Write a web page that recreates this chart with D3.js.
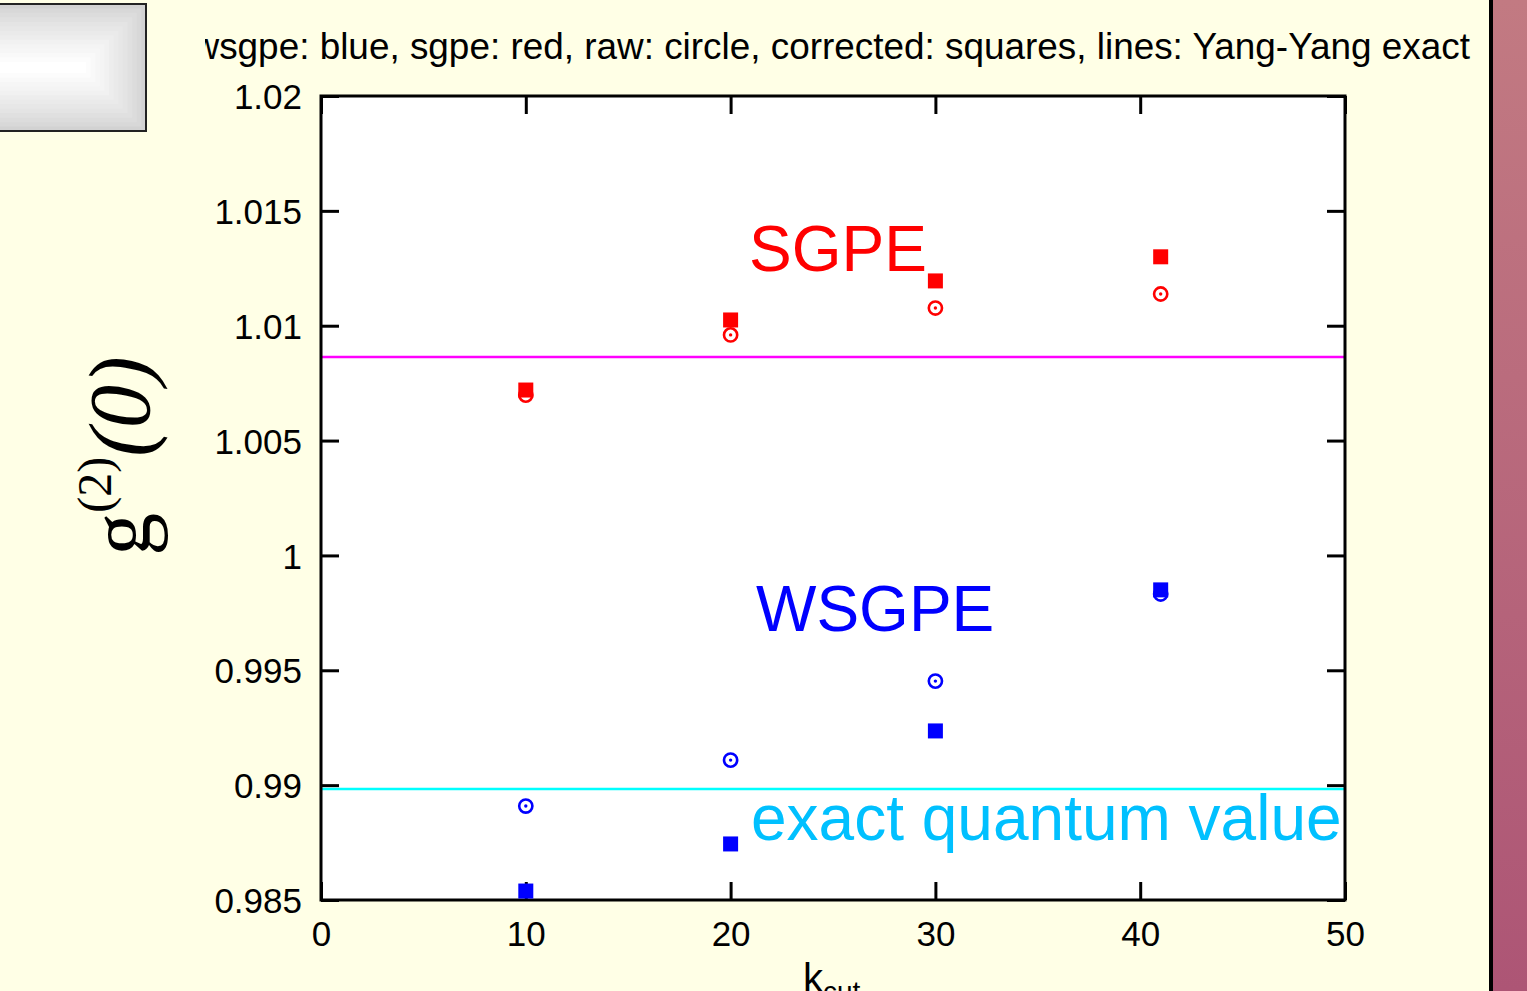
<!DOCTYPE html>
<html>
<head>
<meta charset="utf-8">
<script src="https://cdn.jsdelivr.net/npm/d3@7"></script>
<style>
  html, body { margin: 0; padding: 0; background: #ffffe6; }
  svg { display: block; }
</style>
</head>
<body>
<svg id="chart" width="1527" height="991"></svg>
<script>
// k_cut values sampled
const kcut = [10, 20, 30, 41];
// g2(0) estimates
const sgpeRaw = [1.00698, 1.0096, 1.01077, 1.01138];
const sgpeCorrected = [1.0072, 1.01025, 1.01195, 1.0130];
const wsgpeRaw = [0.98909, 0.99109, 0.99453, 0.99832];
const wsgpeCorrected = [0.98539, 0.98744, 0.99236, 0.9985];
// Yang-Yang exact reference lines
const yangYangSgpe = 1.00864;
const yangYangExact = 0.98983;
// axis ticks
const xTicks = [0, 10, 20, 30, 40, 50];
const yTicks = [0.985, 0.99, 0.995, 1, 1.005, 1.01, 1.015, 1.02];
const yTickLabels = ["0.985", "0.99", "0.995", "1", "1.005", "1.01", "1.015", "1.02"];

const svg = d3.select("#chart");
const W = 1527, H = 991;

// page background and side band
const defs = svg.append("defs");
const band = defs.append("linearGradient").attr("id", "band").attr("x1", 0).attr("y1", 0).attr("x2", 0).attr("y2", 1);
band.append("stop").attr("offset", "0%").attr("stop-color", "#c27a82");
band.append("stop").attr("offset", "100%").attr("stop-color", "#ad5575");
defs.append("clipPath").attr("id", "titleclip")
  .append("rect").attr("x", 205).attr("y", 0).attr("width", 1290).attr("height", 90);

svg.append("rect").attr("x", 0).attr("y", 0).attr("width", W).attr("height", H).attr("fill", "#ffffe6");
svg.append("rect").attr("x", 1492).attr("y", 0).attr("width", 35).attr("height", H).attr("fill", "url(#band)");
svg.append("rect").attr("x", 1489).attr("y", 0).attr("width", 4).attr("height", H).attr("fill", "#000");

// grey bevelled box top-left: nested bands shading toward a light centre strip
const steps = 14;
const boxG = svg.append("g");
const shade = d3.interpolateRgb("#d2d2d2", "#ffffff");
d3.range(steps).forEach(i => {
  const t = i / (steps - 1);
  const top = 4 + t * 58, bottom = 131 - t * 58, right = 146 - t * 60;
  boxG.append("rect").attr("x", -2).attr("y", top).attr("width", right + 2).attr("height", bottom - top)
    .attr("fill", shade(Math.pow(t, 0.8)));
});
svg.append("rect").attr("x", -2).attr("y", 4).attr("width", 148).attr("height", 127)
  .attr("fill", "none").attr("stroke", "#222").attr("stroke-width", 2);

// scales
const x = d3.scaleLinear().domain([0, 50]).range([321, 1345]);
const y = d3.scaleLinear().domain([0.985, 1.02]).range([900, 96]);

// plot area
svg.append("rect").attr("x", x(0)).attr("y", y(1.02)).attr("width", x(50) - x(0)).attr("height", y(0.985) - y(1.02))
  .attr("fill", "#ffffff");

// title
svg.append("text").attr("clip-path", "url(#titleclip)")
  .attr("x", 1470).attr("y", 59).attr("text-anchor", "end")
  .attr("font-family", "Liberation Sans, Arial, sans-serif").attr("font-size", 36.9).attr("fill", "#000")
  .text("wsgpe: blue, sgpe: red, raw: circle, corrected: squares, lines: Yang-Yang exact");

// reference lines
svg.append("line").attr("x1", x(0)).attr("x2", x(50)).attr("y1", y(yangYangSgpe)).attr("y2", y(yangYangSgpe))
  .attr("stroke", "#ff00ff").attr("stroke-width", 2.5);
svg.append("line").attr("x1", x(0)).attr("x2", x(50)).attr("y1", y(yangYangExact)).attr("y2", y(yangYangExact))
  .attr("stroke", "#00ffff").attr("stroke-width", 2.5);

// axes with inward ticks on all four sides
const tickFont = "Liberation Sans, Arial, sans-serif";
const tl = 18;
const yLeft = svg.append("g").attr("transform", `translate(${x(0)},0)`)
  .call(d3.axisLeft(y).tickValues(yTicks).tickSize(-tl).tickPadding(19)
    .tickFormat((d, i) => yTickLabels[i]));
const yRight = svg.append("g").attr("transform", `translate(${x(50)},0)`)
  .call(d3.axisRight(y).tickValues(yTicks).tickSize(-tl).tickFormat(""));
const xBottom = svg.append("g").attr("transform", `translate(0,${y(0.985)})`)
  .call(d3.axisBottom(x).tickValues(xTicks).tickSize(-tl).tickPadding(21));
const xTop = svg.append("g").attr("transform", `translate(0,${y(1.02)})`)
  .call(d3.axisTop(x).tickValues(xTicks).tickSize(-tl).tickFormat(""));
[yLeft, yRight, xBottom, xTop].forEach(g => {
  g.select(".domain").remove();
  g.selectAll(".tick line").attr("stroke", "#000").attr("stroke-width", 3);
  g.selectAll("text").attr("font-family", tickFont).attr("font-size", 35).attr("fill", "#000");
});
yLeft.selectAll("text").attr("dy", "0.36em");

// frame
svg.append("rect").attr("x", x(0)).attr("y", y(1.02)).attr("width", x(50) - x(0)).attr("height", y(0.985) - y(1.02))
  .attr("fill", "none").attr("stroke", "#000").attr("stroke-width", 3);

// markers
const sq = 15;
function squares(vals, color) {
  svg.append("g").selectAll("rect").data(vals).join("rect")
    .attr("x", (d, i) => x(kcut[i]) - sq / 2).attr("y", d => y(d) - sq / 2)
    .attr("width", sq).attr("height", sq).attr("fill", color);
}
function circles(vals, color) {
  const g = svg.append("g");
  g.selectAll("circle.ring").data(vals).join("circle").attr("class", "ring")
    .attr("cx", (d, i) => x(kcut[i])).attr("cy", d => y(d)).attr("r", 6.6)
    .attr("fill", "none").attr("stroke", color).attr("stroke-width", 2.6);
  g.selectAll("circle.dot").data(vals).join("circle").attr("class", "dot")
    .attr("cx", (d, i) => x(kcut[i])).attr("cy", d => y(d)).attr("r", 1.7)
    .attr("fill", color);
}
squares(sgpeCorrected, "#ff0000");
circles(sgpeRaw, "#ff0000");
squares(wsgpeCorrected, "#0000ff");
circles(wsgpeRaw, "#0000ff");

// annotations
const annFont = "Liberation Sans, Arial, sans-serif";
svg.append("text").attr("x", 749).attr("y", 271).attr("font-family", annFont).attr("font-size", 64)
  .attr("fill", "#ff0000").text("SGPE");
svg.append("text").attr("x", 756).attr("y", 631).attr("font-family", annFont).attr("font-size", 64)
  .attr("fill", "#0000ff").text("WSGPE");
svg.append("text").attr("x", 751).attr("y", 840).attr("font-family", annFont).attr("font-size", 64)
  .attr("fill", "#00c0ff").text("exact quantum value");

// axis titles
svg.append("text").attr("x", 803).attr("y", 992)
  .attr("font-family", annFont).attr("font-size", 40).attr("fill", "#000")
  .call(t => {
    t.append("tspan").text("k");
    t.append("tspan").attr("font-size", 28).attr("dy", 9).text("cut");
  });

const ylab = svg.append("text").attr("transform", "translate(149,456) rotate(-90)")
  .attr("text-anchor", "middle").attr("font-family", "Liberation Serif, Times New Roman, serif")
  .attr("font-size", 86).attr("fill", "#000");
ylab.append("tspan").text("g");
ylab.append("tspan").attr("font-size", 48).attr("dy", -38).text("(2)");
ylab.append("tspan").attr("font-style", "italic").attr("dy", 38).text("(0)");
</script>
</body>
</html>
